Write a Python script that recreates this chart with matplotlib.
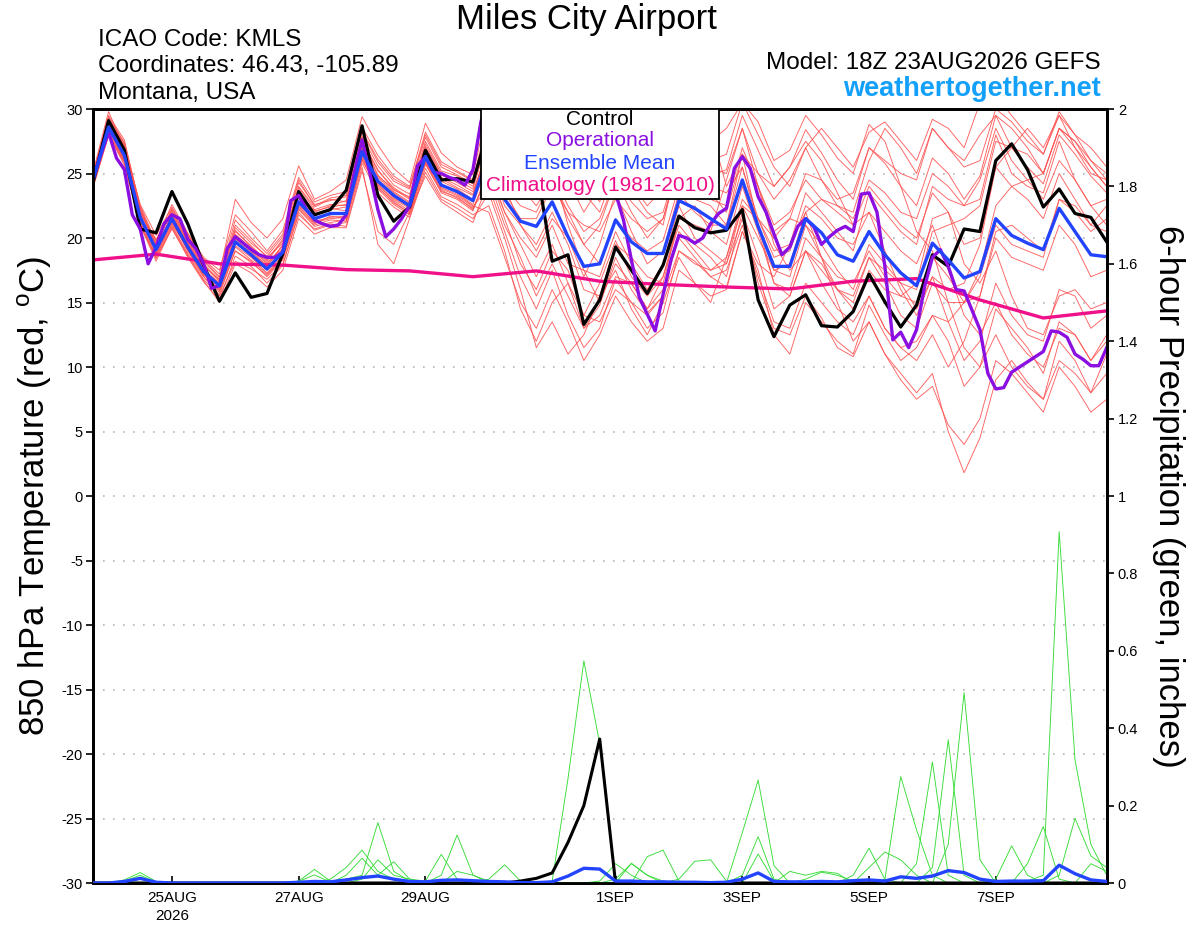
import numpy as np
import matplotlib
matplotlib.use("Agg")
import matplotlib.pyplot as plt
from matplotlib.patches import Rectangle

plt.rcParams['font.family'] = ['Liberation Sans', 'DejaVu Sans']
plt.rcParams['mathtext.fontset'] = 'custom'
plt.rcParams['mathtext.rm'] = 'Liberation Sans'

# 6-hourly steps from 18Z 23AUG2026 (index 0) to 18Z 08SEP (index 64)
steps = np.arange(65)
op_steps = np.arange(129) / 2.0          # operational run is 3-hourly
clim_steps = np.arange(0, 65, 4)         # climatology once a day

tick_steps = [5, 13, 21, 33, 41, 49, 57]
tick_labels = ['25AUG\n2026', '27AUG', '29AUG', '1SEP', '3SEP', '5SEP', '7SEP']

# ---- 850 hPa temperature (C) ----
ctrl_t = [24.2, 29.1, 26.8, 20.7, 20.4, 23.6, 21.1, 17.9, 15.1, 17.3,
          15.4, 15.7, 18.8, 23.6, 21.8, 22.2, 23.7, 28.7, 23.3, 21.3,
          22.4, 26.8, 24.5, 24.6, 24.35, 28.5, 28.0, 27.0, 25.6, 18.2,
          18.7, 13.3, 15.2, 19.3, 17.5, 15.7, 17.9, 21.7, 20.8, 20.4,
          20.6, 22.2, 15.2, 12.35, 14.8, 15.6, 13.2, 13.1, 14.3, 17.2,
          15.05, 13.1, 14.8, 18.7, 17.8, 20.7, 20.5, 26.0, 27.3, 25.3,
          22.4, 23.8, 21.9, 21.6, 19.7]

mean_t = [24.4, 28.6, 26.4, 21.6, 19.1, 21.5, 19.3, 17.4, 16.3, 19.7,
          18.7, 17.6, 18.9, 22.8, 21.5, 21.9, 21.9, 26.7, 24.4, 23.3,
          22.5, 26.3, 24.1, 23.6, 22.9, 26.5, 23.0, 21.3, 20.9, 22.8,
          20.1, 17.8, 18.0, 21.4, 19.7, 18.8, 18.8, 22.9, 22.3, 21.5,
          20.7, 24.5, 20.9, 17.8, 17.8, 21.5, 20.4, 18.7, 18.2, 20.5,
          18.7, 17.3, 16.3, 19.6, 18.3, 16.9, 17.4, 21.5, 20.2, 19.6,
          19.1, 22.3, 20.5, 18.7, 18.55]

op_t = [24.5, 26.4, 28.2, 26.2, 25.3, 21.8, 20.7, 18.0,
        19.3, 21.1, 21.8, 21.5, 19.9, 19.2, 18.0, 16.1,
        16.3, 19.2, 20.1, 19.6, 19.1, 18.7, 18.5, 18.5,
        18.9, 22.9, 23.3, 22.2, 21.4, 21.1, 20.9, 21.0,
        21.8, 25.0, 27.6, 25.0, 22.2, 20.1, 20.7, 21.5,
        22.5, 25.6, 26.3, 25.1, 25.0, 24.7, 24.5, 24.1,
        25.3, 29.0, 31.0, 30.5, 29.5, 28.5, 28.0, 27.5,
        27.0, 27.5, 28.0, 27.5, 27.0, 26.5, 26.0, 25.5,
        25.0, 24.5, 23.5, 21.4, 18.3, 15.4, 14.1, 12.8,
        15.6, 18.3, 20.2, 20.0, 19.6, 20.0, 21.1, 21.9,
        22.3, 25.4, 26.3, 25.4, 23.2, 22.0, 20.3, 18.7,
        19.3, 20.9, 21.5, 20.9, 19.5, 20.1, 20.6, 20.9,
        20.5, 23.4, 23.5, 22.0, 17.8, 12.1, 12.7, 11.5,
        12.9, 16.2, 18.5, 19.1, 17.8, 16.0, 15.9, 14.4,
        12.9, 9.5, 8.3, 8.4, 9.6, 10.0, 10.4, 10.8,
        11.2, 12.8, 12.7, 12.3, 11.0, 10.6, 10.1, 10.1,
        11.5]

clim_t = [18.3, 18.75, 18.0, 17.9, 17.55, 17.45, 17.0, 17.45, 16.65,
          16.4, 16.2, 16.05, 16.65, 16.85, 15.2, 13.8, 14.35]

mem01_t = [24.8, 29.5, 27.6, 22.3, 19.5, 22.0, 20.1, 18.2, 16.9, 21.0, 19.8, 18.5, 19.6, 24.0, 22.4,
           23.0, 22.8, 27.9, 25.6, 24.1, 23.4, 27.5, 25.2, 24.8, 24.0, 28.5, 27.0, 25.5, 24.8, 25.6,
           23.0, 24.5, 22.8, 26.0, 24.2, 22.5, 23.8, 27.6, 26.0, 24.8, 25.3, 29.5, 26.8, 24.0, 25.5,
           28.4, 26.6, 24.5, 23.0, 27.0, 25.8, 24.0, 22.5, 26.2, 25.0, 23.0, 24.8, 29.5, 27.0, 25.5,
           24.2, 28.0, 26.5, 24.8, 23.5]
mem02_t = [24.0, 28.0, 25.8, 21.0, 18.2, 20.8, 18.5, 16.6, 15.2, 18.6, 17.8, 16.5, 17.9, 22.0, 20.6,
           21.0, 21.2, 25.8, 23.5, 22.4, 21.6, 25.4, 23.2, 22.6, 21.8, 22.5, 19.0, 14.5, 12.0, 15.0,
           16.5, 13.0, 14.8, 18.5, 16.0, 14.2, 15.5, 20.5, 19.0, 17.5, 18.0, 21.5, 16.5, 13.0, 12.5,
           15.5, 13.8, 11.5, 10.8, 13.5, 11.0, 9.5, 8.0, 9.5, 5.0, 1.8, 4.5, 9.0, 10.5, 8.8,
           7.5, 12.0, 10.5, 8.0, 9.5]
mem03_t = [24.6, 28.9, 26.9, 21.8, 19.0, 21.8, 19.6, 17.7, 16.1, 20.2, 19.0, 17.8, 19.5, 23.4, 21.7,
           22.3, 22.1, 27.2, 24.9, 23.6, 22.8, 26.8, 24.6, 23.9, 23.3, 27.5, 26.0, 24.0, 23.5, 25.5,
           24.0, 23.0, 23.5, 26.5, 25.0, 24.0, 24.5, 28.0, 26.5, 25.5, 25.0, 28.5, 24.0, 19.5, 17.5,
           19.0, 16.5, 14.5, 13.5, 15.5, 13.0, 11.5, 12.0, 14.0, 13.5, 15.0, 17.0, 21.0, 19.5, 19.0,
           18.5, 23.0, 22.0, 20.5, 21.5]
mem04_t = [23.8, 27.9, 25.9, 20.9, 18.6, 21.0, 18.8, 17.0, 15.8, 19.0, 18.2, 17.0, 18.3, 22.2, 20.9,
           21.2, 21.4, 26.0, 23.9, 22.8, 21.9, 25.8, 23.5, 23.0, 22.1, 25.5, 22.0, 19.5, 17.0, 19.5,
           16.5, 14.0, 13.5, 16.0, 15.0, 14.0, 15.5, 19.0, 18.0, 17.5, 18.5, 22.5, 21.5, 20.0, 21.5,
           25.0, 24.5, 23.0, 23.5, 27.0, 26.0, 25.0, 24.5, 28.5, 27.0, 25.5, 26.0, 30.0, 29.0, 27.5,
           26.5, 29.5, 27.0, 25.0, 24.5]
mem05_t = [25.0, 29.8, 27.0, 22.6, 20.2, 22.4, 20.3, 18.4, 17.2, 23.0, 21.2, 20.0, 21.5, 25.6, 23.0,
           23.6, 24.5, 29.4, 27.2, 25.4, 24.3, 28.9, 26.6, 25.5, 24.9, 30.5, 28.5, 27.0, 26.5, 27.5,
           25.0, 23.5, 22.0, 25.5, 23.8, 22.0, 21.0, 26.5, 28.0, 27.5, 28.5, 30.5, 28.0, 25.5, 24.0,
           27.0, 28.5, 27.0, 25.5, 28.2, 29.0, 27.5, 26.0, 29.2, 28.5, 27.0, 30.5, 31.0, 29.5, 28.0,
           26.5, 29.8, 28.0, 27.0, 25.5]
mem06_t = [24.2, 28.3, 26.1, 21.2, 19.3, 21.2, 19.1, 17.2, 16.0, 19.4, 18.5, 17.3, 18.6, 22.6, 21.3,
           21.6, 21.7, 26.4, 24.1, 22.9, 22.1, 26.0, 23.8, 23.3, 22.4, 24.0, 20.5, 17.0, 14.5, 17.5,
           14.0, 11.5, 13.0, 16.8, 15.0, 13.0, 14.2, 19.0, 18.2, 17.0, 16.2, 20.5, 17.5, 12.5, 11.0,
           15.0, 13.5, 12.0, 11.0, 14.8, 12.5, 10.5, 11.5, 14.0, 12.0, 8.5, 10.0, 14.5, 13.0, 11.5,
           9.5, 13.5, 12.5, 10.5, 12.0]
mem07_t = [24.5, 28.8, 26.7, 21.9, 18.8, 21.9, 19.8, 17.9, 16.6, 20.5, 19.4, 18.2, 19.8, 23.9, 22.2,
           22.6, 22.5, 27.5, 25.2, 23.9, 23.1, 27.1, 24.9, 24.3, 23.6, 27.0, 24.5, 23.0, 24.0, 25.0,
           22.5, 20.5, 21.5, 24.5, 22.8, 21.5, 22.0, 26.0, 25.2, 24.0, 23.5, 25.5, 21.0, 16.5, 15.5,
           19.0, 18.0, 16.0, 15.0, 18.5, 17.5, 16.5, 16.0, 20.5, 21.0, 21.5, 22.5, 27.5, 27.0, 26.5,
           25.0, 28.5, 27.5, 25.5, 24.0]
mem08_t = [24.3, 28.5, 26.3, 21.5, 19.6, 21.3, 19.0, 17.1, 16.4, 19.9, 18.9, 17.9, 19.1, 22.9, 21.6,
           21.8, 22.0, 26.9, 24.5, 23.1, 22.4, 26.4, 24.2, 23.5, 22.6, 26.0, 22.5, 21.0, 19.5, 22.0,
           19.5, 16.0, 15.5, 19.5, 18.5, 17.0, 16.5, 21.5, 21.0, 20.5, 19.5, 24.0, 20.5, 16.5, 16.0,
           20.0, 18.5, 17.0, 16.5, 19.0, 17.0, 15.5, 15.0, 18.5, 17.0, 15.0, 15.5, 20.0, 18.5, 18.0,
           17.5, 21.0, 19.5, 17.0, 17.5]
mem09_t = [24.7, 29.2, 27.2, 22.0, 19.8, 22.2, 19.9, 18.0, 16.7, 20.8, 19.6, 18.6, 20.1, 24.3, 22.6,
           22.9, 23.2, 28.2, 25.9, 24.4, 23.8, 27.8, 25.5, 24.9, 24.2, 29.0, 27.5, 26.0, 25.5, 26.8,
           24.5, 22.0, 24.0, 27.0, 25.2, 23.5, 25.0, 28.5, 27.0, 26.0, 26.5, 30.5, 29.0, 26.0, 26.8,
           29.5, 28.0, 26.2, 25.0, 28.8, 27.5, 24.0, 20.5, 19.0, 15.0, 11.5, 10.0, 12.5, 10.0, 8.5,
           7.5, 10.5, 9.5, 8.0, 11.0]
mem10_t = [23.9, 28.1, 25.6, 21.1, 18.4, 20.9, 18.7, 16.8, 15.5, 18.2, 17.6, 16.8, 18.0, 21.8, 20.7,
           21.1, 20.9, 25.5, 19.5, 18.0, 21.5, 25.1, 23.0, 22.3, 21.5, 23.5, 20.0, 16.0, 11.5, 13.5,
           11.0, 12.5, 15.5, 17.5, 14.5, 12.5, 15.0, 18.5, 16.5, 15.5, 16.0, 20.5, 18.0, 17.0, 19.5,
           23.5, 22.0, 20.5, 19.0, 23.5, 22.0, 20.5, 19.5, 24.0, 23.0, 22.5, 24.5, 28.5, 26.0, 24.5,
           23.0, 26.0, 24.5, 22.5, 21.0]
mem11_t = [24.4, 28.7, 26.5, 21.7, 19.2, 21.6, 19.4, 17.5, 16.2, 19.6, 18.8, 17.7, 18.8, 22.7, 21.4,
           21.9, 21.8, 26.6, 24.3, 23.2, 22.6, 26.2, 24.0, 23.7, 22.9, 27.5, 24.0, 22.5, 22.0, 24.5,
           22.0, 19.5, 18.0, 21.5, 20.0, 19.0, 19.8, 24.0, 23.0, 22.5, 21.0, 25.5, 21.5, 18.5, 19.0,
           22.5, 21.5, 20.0, 19.5, 22.0, 20.5, 19.0, 18.0, 21.0, 17.5, 14.0, 12.5, 15.0, 12.5, 11.0,
           10.0, 13.0, 12.5, 10.5, 12.5]
mem12_t = [24.1, 28.2, 26.0, 21.4, 18.9, 21.1, 19.2, 17.3, 15.9, 19.3, 18.3, 17.2, 18.5, 22.4, 21.2,
           21.5, 21.6, 26.2, 24.0, 22.7, 22.0, 25.9, 23.7, 23.1, 22.3, 25.0, 21.5, 18.0, 16.0, 19.0,
           17.5, 14.0, 16.5, 19.8, 17.0, 15.5, 17.0, 21.0, 19.5, 18.5, 17.0, 22.0, 18.5, 14.5, 15.5,
           19.0, 17.5, 16.0, 15.5, 18.5, 16.5, 14.0, 13.0, 16.5, 15.0, 15.0, 17.5, 22.5, 24.0, 24.5,
           25.0, 28.5, 27.5, 26.0, 25.0]
mem13_t = [24.9, 29.3, 27.4, 22.5, 19.7, 22.6, 20.4, 18.5, 17.5, 21.8, 20.5, 19.0, 20.6, 24.7, 22.8,
           23.3, 23.6, 28.6, 26.4, 24.8, 24.0, 28.2, 25.9, 25.2, 24.5, 29.5, 28.0, 27.0, 26.0, 27.0,
           24.0, 25.5, 23.5, 26.5, 25.5, 24.5, 24.0, 27.5, 29.0, 28.5, 24.0, 26.5, 21.0, 17.5, 18.0,
           22.0, 23.0, 22.5, 22.0, 26.0, 28.5, 27.0, 25.0, 28.5, 27.0, 26.0, 28.0, 29.5, 28.5, 27.0,
           25.0, 28.5, 27.0, 25.5, 24.0]
mem14_t = [24.3, 28.4, 26.2, 21.3, 18.7, 21.4, 19.0, 17.2, 16.2, 19.8, 18.6, 17.5, 18.7, 22.5, 21.1,
           21.7, 21.5, 26.3, 24.2, 23.0, 22.3, 26.1, 23.9, 23.4, 22.5, 22.0, 18.5, 15.0, 13.0, 16.0,
           13.5, 10.5, 12.5, 15.5, 13.5, 12.0, 13.0, 17.5, 16.5, 15.0, 18.5, 23.0, 21.5, 19.0, 19.5,
           22.0, 18.5, 15.0, 12.0, 13.5, 11.0, 9.0, 7.5, 8.5, 5.5, 4.0, 6.0, 10.5, 9.5, 8.0,
           6.5, 10.0, 8.5, 6.5, 7.5]
mem15_t = [24.6, 29.0, 27.1, 22.1, 19.4, 21.7, 19.5, 17.6, 16.5, 20.0, 19.1, 18.0, 19.4, 23.2, 21.9,
           22.2, 22.4, 27.0, 24.7, 23.5, 22.7, 26.6, 24.4, 23.8, 23.0, 26.5, 23.5, 21.5, 21.5, 24.0,
           22.0, 21.0, 20.5, 23.0, 21.5, 20.5, 21.5, 25.5, 24.5, 23.0, 22.5, 27.0, 24.0, 21.0, 22.0,
           24.5, 23.0, 22.0, 21.0, 24.0, 22.5, 21.0, 20.0, 23.5, 22.0, 18.0, 16.5, 19.0, 15.5, 13.0,
           12.5, 15.5, 16.0, 14.5, 15.0]
mem16_t = [24.0, 28.2, 25.9, 21.0, 18.5, 20.7, 18.6, 16.7, 15.0, 18.0, 17.3, 16.2, 17.5, 21.5, 20.3,
           20.8, 20.8, 25.2, 20.5, 19.5, 22.0, 24.8, 22.8, 22.0, 21.2, 24.5, 21.0, 18.5, 15.5, 18.0,
           15.5, 13.0, 14.0, 17.0, 16.5, 14.5, 16.0, 20.0, 18.5, 17.0, 17.5, 21.0, 17.0, 13.5, 13.0,
           16.5, 15.0, 13.5, 12.5, 15.5, 13.0, 11.5, 10.5, 12.5, 10.0, 12.0, 15.5, 20.5, 21.0, 20.0,
           19.0, 23.0, 22.5, 21.0, 22.5]
mem17_t = [24.7, 29.0, 26.8, 21.9, 19.9, 22.1, 19.7, 17.8, 16.8, 20.6, 19.3, 18.3, 19.9, 23.7, 22.0,
           22.5, 22.9, 27.6, 25.3, 23.7, 23.2, 27.3, 25.0, 24.5, 23.8, 28.0, 26.0, 24.5, 23.5, 25.5,
           21.0, 17.5, 15.0, 18.0, 16.5, 14.5, 17.0, 21.5, 22.5, 20.5, 24.5, 28.5, 25.0, 23.0, 24.5,
           27.0, 24.5, 22.5, 21.5, 24.5, 23.5, 22.0, 21.5, 25.0, 24.0, 22.5, 23.0, 28.0, 25.0, 24.0,
           23.5, 27.5, 24.5, 22.5, 23.0]
mem18_t = [24.2, 28.6, 26.0, 21.2, 18.6, 21.3, 19.2, 17.0, 15.6, 19.0, 18.1, 17.1, 18.4, 22.3, 21.0,
           21.4, 21.3, 26.1, 23.8, 22.6, 21.8, 25.7, 23.6, 23.2, 22.2, 25.0, 22.0, 20.0, 18.5, 21.0,
           18.0, 17.5, 17.0, 20.5, 18.0, 16.0, 18.0, 22.5, 20.0, 19.0, 18.0, 22.5, 20.0, 17.5, 17.0,
           21.0, 19.5, 17.5, 16.0, 19.5, 18.0, 16.5, 14.5, 17.0, 16.0, 16.5, 19.5, 25.5, 27.0, 28.5,
           27.0, 29.5, 28.0, 26.0, 24.5]
mem19_t = [24.5, 29.1, 27.0, 22.2, 19.1, 21.8, 19.6, 17.6, 16.4, 20.3, 19.2, 18.1, 19.2, 23.5, 22.1,
           22.4, 22.6, 27.8, 24.8, 23.8, 23.0, 27.0, 24.7, 24.1, 23.4, 27.0, 24.0, 21.0, 19.0, 21.5,
           20.0, 17.0, 19.5, 23.5, 20.5, 18.0, 19.0, 23.5, 22.0, 21.0, 21.0, 26.5, 25.0, 24.0, 25.5,
           27.5, 26.0, 23.5, 21.0, 22.0, 19.0, 16.0, 14.0, 17.0, 13.5, 10.5, 12.0, 16.5, 14.0, 12.5,
           12.0, 16.0, 15.5, 13.0, 14.0]
mem20_t = [24.8, 29.4, 27.3, 22.4, 19.4, 22.3, 20.2, 18.3, 17.0, 21.4, 20.0, 18.8, 20.3, 24.5, 22.5,
           23.1, 23.3, 28.3, 26.1, 24.6, 23.9, 28.0, 25.7, 25.1, 24.4, 29.0, 26.5, 24.0, 22.5, 24.5,
           21.5, 19.5, 21.0, 24.5, 22.0, 20.0, 21.5, 26.0, 24.5, 23.5, 22.0, 26.5, 24.0, 20.5, 21.5,
           21.0, 18.5, 16.0, 14.5, 17.5, 16.0, 15.5, 16.5, 21.5, 22.0, 19.5, 20.0, 25.5, 24.0, 23.0,
           21.5, 25.0, 23.0, 21.0, 20.5]

# ---- 6-hour precipitation (inches) ----
ctrl_p = {27: 0.005, 28: 0.012, 29: 0.026, 30: 0.105, 31: 0.2, 32: 0.372}
mean_p = [0, 0, 0.004, 0.012, 0.002, 0, 0, 0, 0, 0,
          0, 0, 0, 0.002, 0.004, 0.003, 0.008, 0.014, 0.018, 0.01,
          0.004, 0.003, 0.007, 0.008, 0.006, 0.004, 0.003, 0.001, 0.001, 0.003,
          0.018, 0.038, 0.036, 0.005, 0.005, 0.003, 0.003, 0.002, 0.002, 0.001,
          0.002, 0.01, 0.026, 0.004, 0.003, 0.003, 0.004, 0.003, 0.006, 0.008,
          0.005, 0.016, 0.012, 0.018, 0.032, 0.027, 0.01, 0.004, 0.005, 0.005,
          0.006, 0.046, 0.024, 0.008, 0.004]

mem01_p = {2: 0.008, 3: 0.027, 4: 0.004, 41: 0.13, 42: 0.266, 43: 0.045}
mem02_p = {15: 0.01, 16: 0.04, 17: 0.085, 18: 0.03, 19: 0.01, 61: 0.02, 62: 0.167, 63: 0.07, 64: 0.04}
mem03_p = {13: 0.005, 14: 0.035, 15: 0.005, 41: 0.02, 42: 0.12, 43: 0.01}
mem04_p = {16: 0.02, 17: 0.064, 18: 0.02, 19: 0.055, 20: 0.01, 63: 0.05, 64: 0.03}
mem05_p = {2: 0.005, 3: 0.02, 4: 0.002, 42: 0.075, 43: 0.005}
mem06_p = {16: 0.01, 17: 0.02, 18: 0.156, 19: 0.03, 20: 0.005}
mem07_p = {13: 0.004, 14: 0.021, 15: 0.002, 44: 0.03, 45: 0.02, 46: 0.03, 47: 0.025}
mem08_p = {17: 0.01, 18: 0.06, 19: 0.02, 20: 0.01, 21: 0.005}
mem09_p = {3: 0.015, 4: 0.002, 45: 0.01, 46: 0.028, 47: 0.02, 48: 0.005}
mem10_p = {21: 0.005, 22: 0.074, 23: 0.01, 24: 0.004}
mem11_p = {22: 0.02, 23: 0.124, 24: 0.021, 48: 0.02, 49: 0.09, 50: 0.01}
mem12_p = {23: 0.03, 24: 0.02, 25: 0.005, 49: 0.04, 50: 0.08, 51: 0.06, 52: 0.02}
mem13_p = {3: 0.01, 25: 0.01, 26: 0.047, 27: 0.005, 50: 0.01, 51: 0.275, 52: 0.137, 53: 0.02}
mem14_p = {29: 0.005, 30: 0.27, 31: 0.574, 32: 0.36, 33: 0.01}
mem15_p = {32: 0.005, 33: 0.05, 34: 0.02, 52: 0.05, 53: 0.313, 54: 0.02}
mem16_p = {33: 0.01, 34: 0.05, 35: 0.02, 53: 0.04, 54: 0.37, 55: 0.02}
mem17_p = {34: 0.051, 35: 0.02, 36: 0.005, 54: 0.1, 55: 0.492, 56: 0.06}
mem18_p = {35: 0.068, 36: 0.085, 37: 0.005, 57: 0.01, 58: 0.096, 59: 0.02}
mem19_p = {37: 0.01, 38: 0.056, 39: 0.06, 40: 0.005, 59: 0.05, 60: 0.146, 61: 0.01}
mem20_p = {59: 0.005, 60: 0.02, 61: 0.908, 62: 0.318, 63: 0.1, 64: 0.02}

members_t = [mem01_t, mem02_t, mem03_t, mem04_t, mem05_t, mem06_t, mem07_t, mem08_t, mem09_t, mem10_t,
             mem11_t, mem12_t, mem13_t, mem14_t, mem15_t, mem16_t, mem17_t, mem18_t, mem19_t, mem20_t]
members_p = [mem01_p, mem02_p, mem03_p, mem04_p, mem05_p, mem06_p, mem07_p, mem08_p, mem09_p, mem10_p,
             mem11_p, mem12_p, mem13_p, mem14_p, mem15_p, mem16_p, mem17_p, mem18_p, mem19_p, mem20_p]


def full_series(sparse):
    arr = np.zeros(len(steps))
    for k, v in sparse.items():
        arr[k] = v
    return arr


RED = '#ff5050'
GREEN = '#38dc38'
PURPLE = '#8a0fe0'
BLUE = '#2244ff'
MAGENTA = '#f0108a'

fig = plt.figure(figsize=(12, 9.27), dpi=100)
ax = fig.add_axes([0.07725, 0.04746, 0.845, 0.83495])
ax.set_xlim(0, 64)
ax.set_ylim(-30, 30)

for t in range(-25, 30, 5):
    ax.axhline(t, color='#b4b4b4', lw=1.2, ls=(0, (1, 5)), zorder=0.5)

for m in members_t:
    ax.plot(steps, m, color=RED, lw=0.65, alpha=0.9, zorder=1)
ax.plot(clim_steps, clim_t, color=MAGENTA, lw=2.4, zorder=2)
ax.plot(steps, ctrl_t, color='black', lw=2.3, zorder=3)
ax.plot(op_steps, op_t, color=PURPLE, lw=2.4, zorder=4)
ax.plot(steps, mean_t, color=BLUE, lw=2.4, zorder=5)

ax.set_yticks(np.arange(-30, 31, 5))
ax.set_yticklabels([str(v) for v in range(-30, 31, 5)])
ax.set_xticks(tick_steps)
ax.set_xticklabels(tick_labels, linespacing=1.3)
ax.tick_params(axis='y', direction='out', length=5, width=1.2, labelsize=10.5, pad=2)
ax.tick_params(axis='x', direction='in', length=5, width=1.2, labelsize=11, pad=6)

# precipitation on the right axis
ax2 = ax.twinx()
ax2.set_ylim(0, 2)
for p in members_p:
    ax2.plot(steps, full_series(p), color=GREEN, lw=0.65, zorder=1)
ax2.plot(steps, full_series(ctrl_p), color='black', lw=2.2, zorder=3)
ax2.plot(steps, mean_p, color=BLUE, lw=2.4, zorder=4)
pticks = np.round(np.arange(0, 2.01, 0.2), 1)
ax2.set_yticks(pticks)
ax2.set_yticklabels(['%g' % v for v in pticks])
ax2.tick_params(axis='y', direction='out', length=5, width=1.2, labelsize=10.5, pad=3)

for a in (ax, ax2):
    for s in a.spines.values():
        s.set_linewidth(2.0)

# legend box
ax2.add_patch(Rectangle((0.3829, 0.8837), 0.2347, 0.1163, transform=ax2.transAxes,
                        facecolor='white', edgecolor='black', lw=1.3, zorder=20, clip_on=False))
leg_items = [('Control', 'black', 0.9858), ('Operational', PURPLE, 0.9587),
             ('Ensemble Mean', BLUE, 0.9302), ('Climatology (1981-2010)', MAGENTA, 0.9018)]
for label, col, yy in leg_items:
    ax2.text(0.5003, yy, label, color=col, fontsize=15, ha='center', va='center',
             transform=ax2.transAxes, zorder=21)

# header texts
fig.text(586 / 1200, 1 - 19 / 927, 'Miles City Airport', ha='center', va='center', fontsize=25)
fig.text(98 / 1200, 1 - 40 / 927, 'ICAO Code: KMLS', ha='left', va='center', fontsize=17.5)
fig.text(98 / 1200, 1 - 66 / 927, 'Coordinates: 46.43, -105.89', ha='left', va='center', fontsize=17.5)
fig.text(98 / 1200, 1 - 93 / 927, 'Montana, USA', ha='left', va='center', fontsize=17.5)
fig.text(1101 / 1200, 1 - 63 / 927, 'Model: 18Z 23AUG2026 GEFS', ha='right', va='center', fontsize=17.5)
fig.text(1101 / 1200, 1 - 89 / 927, 'weathertogether.net', ha='right', va='center', fontsize=19.5,
         fontweight='bold', color='#12a0fa')

fig.text(35 / 1200, 1 - 496 / 927, '850 hPa Temperature (red, $^\\mathrm{o}$C)', rotation=90,
         ha='center', va='center', fontsize=25)
fig.text(1168 / 1200, 1 - 496 / 927, '6-hour Precipitation (green, inches)', rotation=270,
         ha='center', va='center', fontsize=25)

fig.savefig('out.png', dpi=100)
